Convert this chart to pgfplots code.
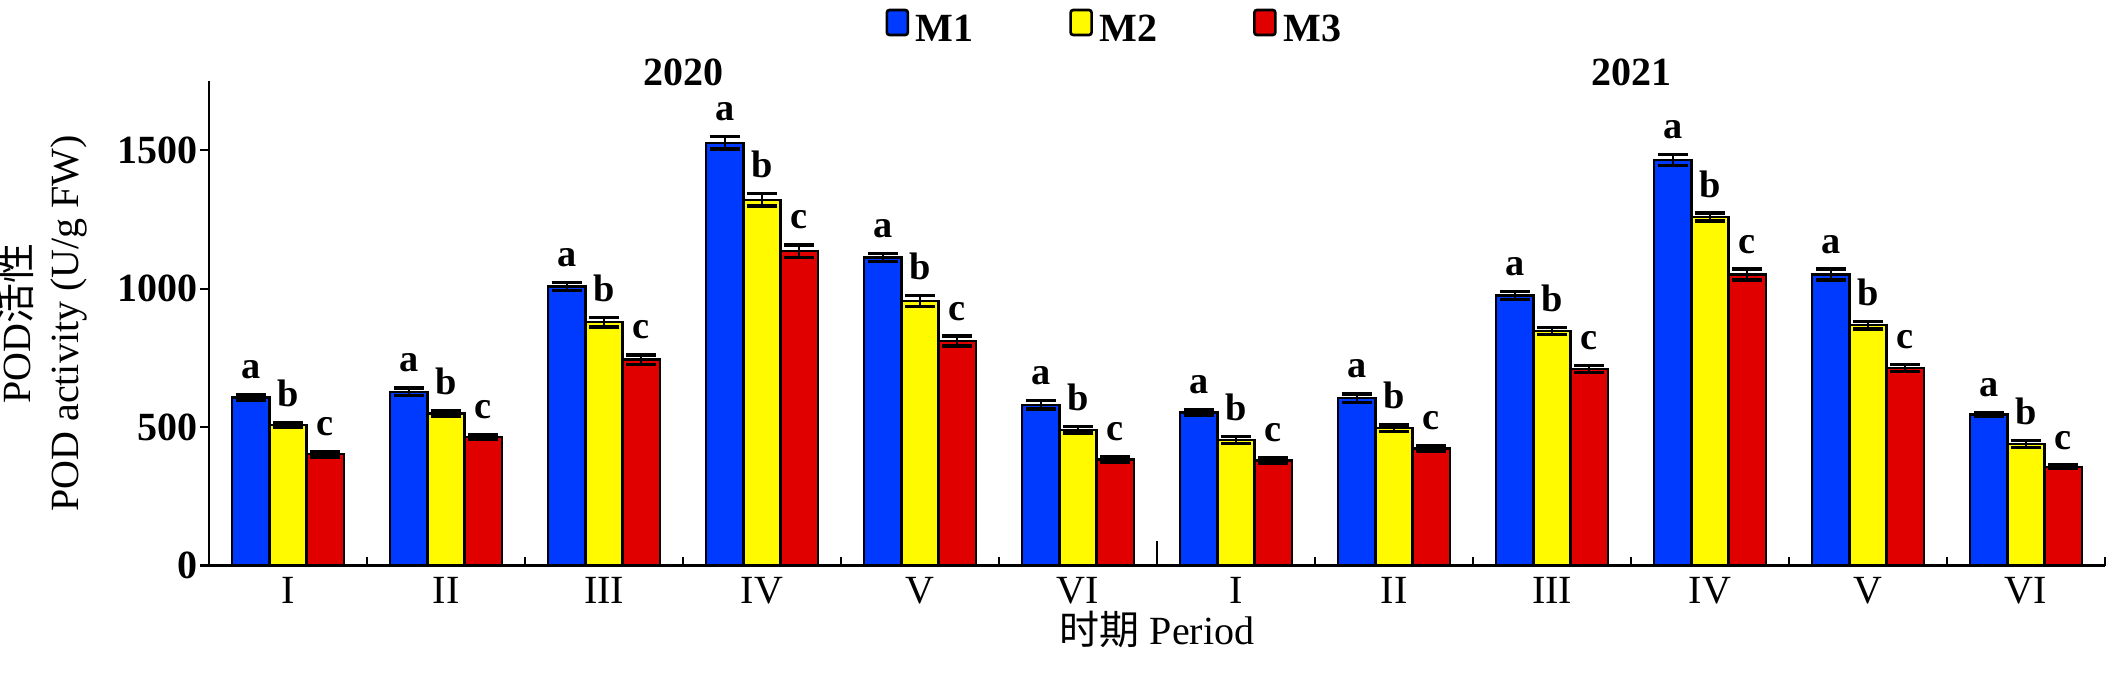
\documentclass[border=0pt]{standalone}
\usepackage{pgfplots}
\pgfplotsset{compat=1.18}
\usepackage{pgfplotstable}
\usepackage{fontspec}
\setmainfont{Liberation Serif}
\newfontfamily\cjk{Noto Sans CJK SC}
\definecolor{cb}{RGB}{0,58,255}
\definecolor{cy}{RGB}{255,250,0}
\definecolor{cr}{RGB}{225,0,0}
\pgfplotstableread{
x  m1   e1  m2   e2  m3   e3
1  607  11  508  9   402  10
2  628  14  550  10  465  9
3  1008 15  879  17  744  17
4  1527 23  1321 22  1135 23
5  1113 15  955  20  811  18
6  581  15  491  12  383  10
7  553  10  454  13  380  11
8  605  15  496  12  423  9
9  975  15  848  13  710  12
10 1464 20  1259 14  1051 20
11 1051 20  868  14  713  13
12 546  7   439  12  357  6
}\data
\newcommand{\fs}{\fontsize{12}{14.4}\selectfont}
\begin{document}
\begin{tikzpicture}
\begin{axis}[name=ax, scale only axis, width=568.8pt, height=145.4pt,
  xmin=0.5, xmax=12.5, ymin=0, ymax=1750, enlargelimits=false, clip=false,
  axis lines=left, axis line style={-, line width=0.7pt},
  ybar, bar width=0.235,
  xtick={0.5,1.5,...,12.5}, x tick label as interval,
  xticklabels={I,II,III,IV,V,VI,I,II,III,IV,V,VI},
  extra x ticks={6.5}, extra x tick labels={}, extra x tick style={major tick length=7.5pt},
  ytick={0,500,1000,1500}, yticklabels={0,500,1000,1500},
  tick align=inside, major tick length=2.6pt,
  tick style={line width=0.7pt, black},
  y tick style={xshift=-2.6pt},
  xticklabel style={font=\fs},
  yticklabel style={font=\bfseries\fs},
  ylabel={POD{\cjk 活性}\\POD activity (U/g FW)},
  ylabel style={align=center, font=\fs, inner sep=0pt, at={(axis description cs:-0.0638,0.5)}, anchor=south},
  xlabel={{\cjk 时期} Period},
  xlabel style={font=\fs, inner sep=0pt, at={(axis description cs:0.5,0)}, anchor=north, yshift=-13.5pt},
  legend style={at={(0.5,1)}, anchor=center, yshift=15pt, xshift=-12.1pt, draw=none, fill=none,
    font=\bfseries\fs, /tikz/every even column/.append style={column sep=26.7pt}},
  legend columns=3,
]
\addplot[fill=cb, draw=black, line width=0.7pt, bar shift=-0.235,
  legend image code/.code={\draw[fill=cb, draw=black, line width=0.8pt, rounded corners=0.8pt] (0pt,-1.2pt) rectangle (6.3pt,6.3pt);},
  error bars/.cd, y dir=both, y explicit, error bar style={line width=0.8pt, solid},
  error mark options={rotate=90, mark size=4.6pt, line width=1pt}]
  table[x=x, y=m1, y error=e1]{\data};
\addlegendentry{M1}
\addplot[fill=cy, draw=black, line width=0.7pt, bar shift=0,
  legend image code/.code={\draw[fill=cy, draw=black, line width=0.8pt, rounded corners=0.8pt] (0pt,-1.2pt) rectangle (6.3pt,6.3pt);},
  error bars/.cd, y dir=both, y explicit, error bar style={line width=0.8pt, solid},
  error mark options={rotate=90, mark size=4.6pt, line width=1pt}]
  table[x=x, y=m2, y error=e2]{\data};
\addlegendentry{M2}
\addplot[fill=cr, draw=black, line width=0.7pt, bar shift=0.235,
  legend image code/.code={\draw[fill=cr, draw=black, line width=0.8pt, rounded corners=0.8pt] (0pt,-1.2pt) rectangle (6.3pt,6.3pt);},
  error bars/.cd, y dir=both, y explicit, error bar style={line width=0.8pt, solid},
  error mark options={rotate=90, mark size=4.6pt, line width=1pt}]
  table[x=x, y=m3, y error=e3]{\data};
\addlegendentry{M3}
\addplot[draw=none, fill=none, bar shift=-0.235, forget plot, nodes near coords={a},
  every node near coord/.append style={font=\bfseries\fontsize{11.5}{12}\selectfont, anchor=south, inner sep=0pt, yshift=4.5pt, text=black}]
  table[x=x, y expr=\thisrow{m1}+\thisrow{e1}]{\data};
\addplot[draw=none, fill=none, bar shift=0, forget plot, nodes near coords={b},
  every node near coord/.append style={font=\bfseries\fontsize{11.5}{12}\selectfont, anchor=south, inner sep=0pt, yshift=4.5pt, text=black}]
  table[x=x, y expr=\thisrow{m2}+\thisrow{e2}]{\data};
\addplot[draw=none, fill=none, bar shift=0.235, forget plot, nodes near coords={c},
  every node near coord/.append style={font=\bfseries\fontsize{11.5}{12}\selectfont, anchor=south, inner sep=0pt, yshift=4.5pt, text=black}]
  table[x=x, y expr=\thisrow{m3}+\thisrow{e3}]{\data};
\node[font=\bfseries\fs] at (axis cs:3.5,1780) {2020};
\node[font=\bfseries\fs] at (axis cs:9.5,1780) {2021};
\end{axis}
\pgfresetboundingbox
\path (ax.south west) ++(-62.7pt,-33.4pt) rectangle ++(633.9pt,203.1pt);
\end{tikzpicture}
\end{document}
